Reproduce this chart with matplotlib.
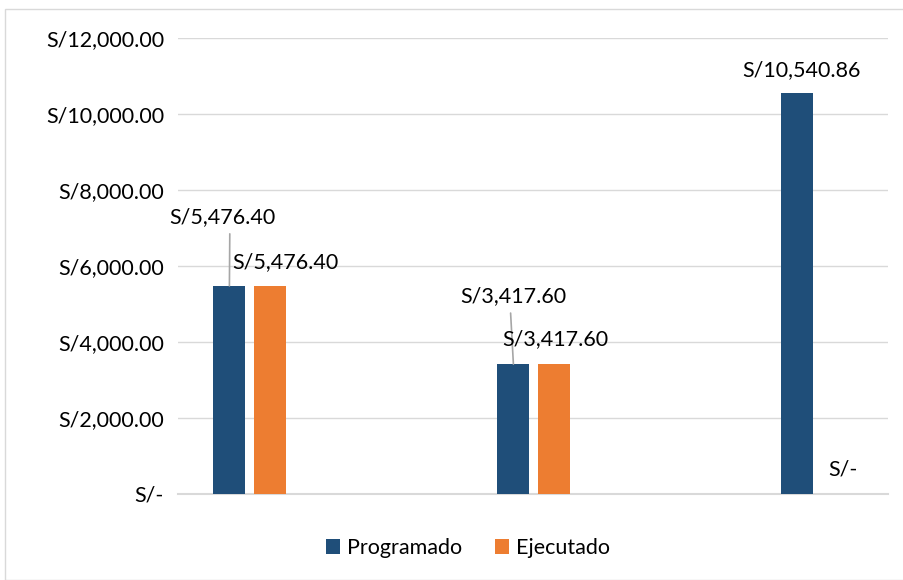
import matplotlib.pyplot as plt
from matplotlib.patches import Rectangle
import numpy as np

# data
categories = ["", "", ""]
series = ["Programado", "Ejecutado"]
programado = [5476.40, 3417.60, 10540.86]
ejecutado = [5476.40, 3417.60, 0.0]
y_ticks = [0, 2000, 4000, 6000, 8000, 10000, 12000]


def soles(v):
    if v == 0:
        return "S/-"
    return "S/{:,.2f}".format(v)


plt.rcParams['font.family'] = ['Lato', 'DejaVu Sans']
fs = 15.5

fig = plt.figure(figsize=(9.04, 5.8), dpi=100)
ax = fig.add_axes([178 / 904, 1 - 494 / 580, 710 / 904, 456 / 580])

# outer chart border like the Excel chart area
fig.patches.append(Rectangle((5 / 904, 0), 1, 1 - 9 / 580, transform=fig.transFigure,
                             fill=False, edgecolor='#D9D9D9', linewidth=1))

x = np.arange(len(categories))
w = 0.113
off = 0.071
blue = '#1F4E79'
orange = '#ED7D31'

ax.bar(x - off, programado, w, color=blue, label=series[0], zorder=3)
ax.bar(x + off, ejecutado, w, color=orange, label=series[1], zorder=3)

ax.set_xlim(-0.252, 2.248)
ax.set_ylim(0, 12000)
ax.set_yticks(y_ticks)
ax.set_yticklabels([soles(t) for t in y_ticks])
ax.set_xticks([])
ax.grid(axis='y', color='#D9D9D9', linewidth=1, zorder=0)
ax.axhline(0, color='#D9D9D9', linewidth=1.5, zorder=1, clip_on=False)
for s in ax.spines.values():
    s.set_visible(False)
ax.tick_params(axis='y', length=0, pad=10, labelsize=fs, labelcolor='#000000')

# data labels (offsets in pixels from bar tops); leader = relpos on label bottom
lab_blue = [(-7, 69, 0.57), (0, 68, 0.47), (4, 23, None)]
lab_orange = [(16, 24), (2, 25), (5, 24)]
for i in range(len(categories)):
    dx, dy, rel = lab_blue[i]
    arrow = None
    if rel is not None:
        arrow = dict(arrowstyle='-', color='#A6A6A6', lw=1.2,
                     shrinkA=3, shrinkB=0, relpos=(rel, 0))
    ax.annotate(soles(programado[i]), xy=(x[i] - off, programado[i]),
                xytext=(dx, dy), textcoords='offset pixels', ha='center', va='center',
                fontsize=fs, arrowprops=arrow)
    dx, dy = lab_orange[i]
    ax.annotate(soles(ejecutado[i]), xy=(x[i] + off, ejecutado[i]),
                xytext=(dx, dy), textcoords='offset pixels', ha='center', va='center',
                fontsize=fs)

fig.legend(loc='center', bbox_to_anchor=(468 / 904, 1 - 548 / 580), ncol=2,
           frameon=False, fontsize=fs, handlelength=0.65, handleheight=0.65,
           handletextpad=0.35, columnspacing=1.5)

fig.savefig('out.png', dpi=100)
